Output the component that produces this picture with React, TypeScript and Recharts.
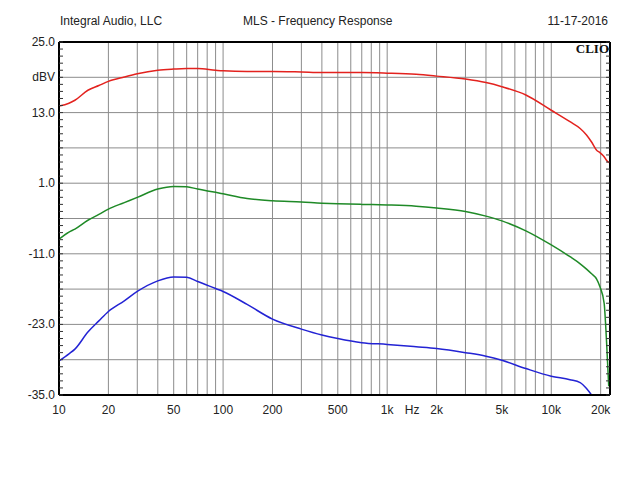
import React from 'react'
import { LineChart, Line, XAxis, YAxis, CartesianGrid } from 'recharts'

// Frequency points (Hz) and the three measured responses (dBV)
const freqs = [
  10, 11.5, 12.5, 15, 17.5, 20, 25, 30, 40, 50, 60, 70, 90, 100, 140, 200, 300, 400, 500, 700, 1000,
  1500, 2000, 3000, 4000, 5000, 7000, 10000, 13000, 15000, 16400, 17600, 18900, 19800, 21000, 21700,
  22400,
]
const redDb = [
  14.1, 14.6, 15.1, 16.8, 17.6, 18.3, 19.05, 19.6, 20.2, 20.4, 20.5, 20.5, 20.2, 20.1, 20.0, 20.0, 19.9,
  19.8, 19.8, 19.8, 19.7, 19.5, 19.2, 18.7, 18.1, 17.4, 16.0, 13.4, 11.45, 10.3, 9.2, 8.0, 6.6, 6.2, 5.5,
  4.9, 4.5,
]
const greenDb = [
  -8.5, -7.3, -6.8, -5.3, -4.3, -3.4, -2.3, -1.4, 0.0, 0.45, 0.4, 0.0, -0.55, -0.8, -1.6, -2.0, -2.2,
  -2.4, -2.5, -2.6, -2.7, -2.9, -3.2, -3.8, -4.6, -5.4, -7.1, -9.5, -11.5, -12.7, -13.6, -14.4, -15.3,
  -16.6, -19.4, -25.7, -33.5,
]
const blueDb = [
  -29.2, -28.0, -27.2, -24.3, -22.4, -20.8, -19.0, -17.4, -15.6, -14.95, -15.0, -15.7, -16.9, -17.4,
  -19.6, -22.1, -23.8, -24.8, -25.4, -26.1, -26.4, -26.8, -27.1, -27.8, -28.4, -29.1, -30.5, -31.8,
  -32.4, -32.9, -33.9, -35.0, null, null, null, null, null,
]

// axis ticks / labels
const xTicks = [10, 20, 50, 100, 200, 500, 1000, 1420, 2000, 5000, 10000, 20000]
const xTickLabels = ['10', '20', '50', '100', '200', '500', '1k', 'Hz', '2k', '5k', '10k', '20k']
const xGrid = [
  20, 30, 40, 50, 60, 70, 80, 90, 100, 200, 300, 400, 500, 600, 700, 800, 900, 1000, 2000, 3000, 4000,
  5000, 6000, 7000, 8000, 9000, 10000, 20000,
]
const yMajor = [25, 13, 1, -11, -23, -35]
const yGrid = [19, 13, 7, 1, -5, -11, -17, -23, -29]
const yMinor = Array.from({ length: 51 }, (_, i) => Math.round((-35 + i * 1.2) * 10) / 10)

const data = freqs.map((f, i) => ({ f, red: redDb[i], green: greenDb[i], blue: blueDb[i] }))

const FONT = '"Liberation Sans", Arial, sans-serif'

function YTick(props: any) {
  const { x, y, payload } = props
  const v = payload.value
  let label = ''
  if (yMajor.some((m) => Math.abs(m - v) < 0.01)) label = v.toFixed(1)
  else if (Math.abs(v - 19) < 0.01) label = 'dBV'
  if (!label) return <g />
  return (
    <text x={x} y={y} dy={4} textAnchor="end" fontSize={12} fontFamily={FONT} fill="#222">
      {label}
    </text>
  )
}

function XTick(props: any) {
  const { x, y, payload } = props
  const idx = xTicks.indexOf(payload.value)
  return (
    <text x={x} y={y} dy={11} textAnchor="middle" fontSize={12} fontFamily={FONT} fill="#222">
      {xTickLabels[idx]}
    </text>
  )
}

const header: React.CSSProperties = {
  position: 'absolute',
  top: 14,
  fontFamily: FONT,
  fontSize: 12,
  color: '#222',
  whiteSpace: 'nowrap',
}

export default function App() {
  return (
    <div style={{ position: 'absolute', left: 0, top: 0, width: 640, height: 480, background: '#fff' }}>
      <div style={{ ...header, left: 60 }}>Integral Audio, LLC</div>
      <div style={{ ...header, left: 243 }}>MLS - Frequency Response</div>
      <div style={{ ...header, right: 32 }}>11-17-2016</div>
      <LineChart
        width={640}
        height={480}
        data={data}
        margin={{ top: 40, right: 28, bottom: 55, left: 8 }}
      >
        <CartesianGrid
          stroke="#8c8c8c"
          strokeWidth={1}
          horizontalValues={yGrid}
          verticalValues={xGrid}
        />
        <XAxis
          dataKey="f"
          type="number"
          scale="log"
          domain={[10, 22800]}
          allowDataOverflow
          ticks={xTicks}
          tick={<XTick />}
          tickLine={false}
          tickSize={6}
          tickMargin={2}
          height={30}
          axisLine={{ stroke: '#000', strokeWidth: 2 }}
          interval={0}
        />
        <XAxis
          xAxisId="top"
          orientation="top"
          dataKey="f"
          type="number"
          scale="log"
          domain={[10, 22800]}
          allowDataOverflow
          height={2}
          tick={false}
          tickLine={false}
          axisLine={{ stroke: '#000', strokeWidth: 2 }}
        />
        <YAxis
          type="number"
          domain={[-35, 25]}
          allowDataOverflow
          ticks={yMinor}
          interval={0}
          width={51}
          tickSize={-4}
          tickMargin={8}
          tick={<YTick />}
          tickLine={{ stroke: '#333' }}
          axisLine={{ stroke: '#000', strokeWidth: 2 }}
        />
        <YAxis
          yAxisId="right"
          orientation="right"
          type="number"
          domain={[-35, 25]}
          allowDataOverflow
          ticks={yMinor}
          interval={0}
          width={2}
          tickSize={-4}
          tick={() => <g />}
          tickLine={{ stroke: '#333' }}
          axisLine={{ stroke: '#000', strokeWidth: 2 }}
        />
        <Line dataKey="red" stroke="#e3221e" strokeWidth={1.5} dot={false} type="monotone" isAnimationActive={false} />
        <Line dataKey="green" stroke="#1f8a27" strokeWidth={1.5} dot={false} type="monotone" isAnimationActive={false} />
        <Line dataKey="blue" stroke="#2323d4" strokeWidth={1.5} dot={false} type="monotone" isAnimationActive={false} />
      </LineChart>
      <div
        style={{
          position: 'absolute',
          right: 31,
          top: 41,
          fontFamily: '"Liberation Serif", "Times New Roman", serif',
          fontWeight: 'bold',
          fontSize: 13,
          color: '#111',
        }}
      >
        CLIO
      </div>
    </div>
  )
}
